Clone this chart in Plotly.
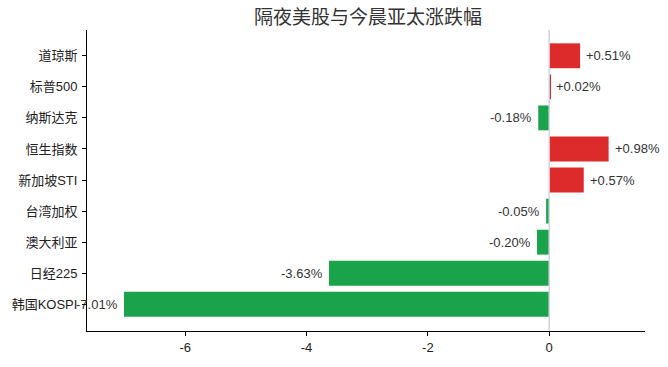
import plotly.graph_objects as go

categories = ["道琼斯", "标普500", "纳斯达克", "恒生指数", "新加坡STI", "台湾加权", "澳大利亚", "日经225", "韩国KOSPI"]
values = [0.51, 0.02, -0.18, 0.98, 0.57, -0.05, -0.20, -3.63, -7.01]
x_ticks = [-6, -4, -2, 0]

RED = "#dd2a2a"
GREEN = "#1aa34b"
colors = [RED if v >= 0 else GREEN for v in values]
labels = [f"{v:+.2f}%" for v in values]

FONT = "Liberation Sans, Arial, Noto Sans CJK SC, sans-serif"

fig = go.Figure()
fig.add_trace(go.Bar(
    x=values, y=categories, orientation="h",
    marker=dict(color=colors, line=dict(width=0)),
    width=0.8,
    hoverinfo="skip",
))

for v, c, t in zip(values, categories, labels):
    fig.add_annotation(
        x=v, y=c, xref="x", yref="y", text=t, showarrow=False,
        xanchor="left" if v >= 0 else "right", yanchor="middle",
        xshift=4 if v >= 0 else -4,
        font=dict(size=13, color="#333333", family=FONT),
    )

fig.add_shape(type="line", x0=0, x1=0, y0=0, y1=1, xref="x", yref="paper",
              line=dict(color="#d0d4dc", width=1.5), layer="above")

fig.update_layout(
    width=668, height=367,
    margin=dict(l=87, r=23, t=30, b=32),
    paper_bgcolor="white", plot_bgcolor="white",
    showlegend=False,
    font=dict(family=FONT, size=13, color="#222222"),
    title=dict(text="隔夜美股与今晨亚太涨跌幅", x=368 / 668, xanchor="center",
               y=1 - 17 / 367, yanchor="middle", xref="container", yref="container",
               font=dict(size=19, color="#333333", family=FONT)),
    bargap=0.2,
)
fig.update_xaxes(
    range=[-7.62, 1.58], tickvals=x_ticks, ticktext=[str(t) for t in x_ticks],
    showgrid=False, zeroline=False, showline=True, linecolor="black", linewidth=1,
    ticks="outside", ticklen=4, tickcolor="black", tickfont=dict(size=13, color="#222222"),
    mirror=False,
)
fig.update_yaxes(
    type="category", categoryorder="array", categoryarray=categories,
    range=[8.86, -0.83],
    showgrid=False, zeroline=False, showline=True, linecolor="black", linewidth=1,
    ticks="outside", ticklen=4, tickcolor="black", tickfont=dict(size=13, color="#222222"),
    ticklabelstandoff=2,
)

fig.write_html("out.html")
